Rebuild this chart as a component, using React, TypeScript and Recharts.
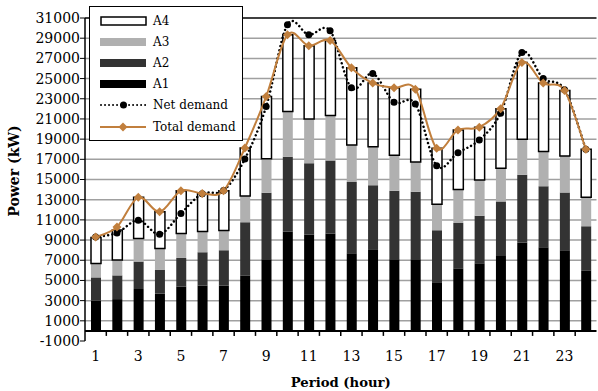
import React from 'react';
import {
  ComposedChart,
  Bar,
  Line,
  XAxis,
  YAxis,
  CartesianGrid,
  ReferenceLine,
  Legend,
  Label,
} from 'recharts';

// values (kW)
const periods = [1, 2, 3, 4, 5, 6, 7, 8, 9, 10, 11, 12, 13, 14, 15, 16, 17, 18, 19, 20, 21, 22, 23, 24];
const a1 = [3000, 3150, 4150, 3700, 4400, 4500, 4500, 5500, 7100, 9850, 9550, 9650, 7700, 8100, 7100, 7100, 4750, 6200, 6700, 7500, 8750, 8300, 8000, 6000];
const a2 = [2300, 2350, 2720, 2370, 2830, 3300, 3490, 5270, 6580, 7410, 7050, 7220, 7050, 6320, 6780, 6680, 5230, 4500, 4700, 5330, 6720, 6030, 5720, 4380];
const a3 = [1370, 1530, 2280, 2090, 2420, 2050, 1960, 2590, 3380, 4470, 4400, 4460, 3670, 3830, 3530, 2950, 2580, 3310, 3540, 3280, 3510, 3450, 3610, 2850];
const a4 = [2580, 2970, 4080, 3640, 4230, 3770, 3930, 4760, 6160, 7610, 7250, 7450, 7650, 6300, 6670, 7220, 5530, 5900, 5240, 5910, 7620, 6770, 6480, 4760];
const netDemand = [9300, 9710, 10970, 9580, 11640, 13600, 13900, 17030, 22220, 30340, 29340, 29740, 24080, 25500, 22660, 22490, 16360, 17660, 18920, 21570, 27590, 25010, 23900, 18000];
const totalDemand = [9300, 10300, 13230, 11800, 13880, 13620, 13880, 18120, 23220, 29340, 28250, 28780, 26070, 24550, 24080, 23950, 18090, 19910, 20180, 22020, 26600, 24550, 23810, 17990];
const yTicks = [-1000, 1000, 3000, 5000, 7000, 9000, 11000, 13000, 15000, 17000, 19000, 21000, 23000, 25000, 27000, 29000, 31000];
const gridValues = [1000, 3000, 5000, 7000, 9000, 11000, 13000, 15000, 17000, 19000, 21000, 23000, 25000, 27000, 29000];

const data = periods.map((p, i) => ({
  period: p,
  a1: a1[i],
  a2: a2[i],
  a3: a3[i],
  a4: a4[i],
  net: netDemand[i],
  total: totalDemand[i],
}));

const W = 598;
const H = 391;
const TOP = 18;
const X_AXIS_H = 50;
const PLOT_H = H - TOP - X_AXIS_H;
const ZERO_Y = TOP + PLOT_H * (31000 / 32000);
const BAND = (W - 85 - 1.5) / periods.length;

const ORANGE = '#C17F3D';
const FONT = '"DejaVu Serif", serif';

// excel-like smoothed line (catmull-rom)
const excelSmooth = (context: any) => {
  let pts: [number, number][] = [];
  return {
    areaStart() {},
    areaEnd() {},
    lineStart() {
      pts = [];
    },
    lineEnd() {
      if (!pts.length) return;
      context.moveTo(pts[0][0], pts[0][1]);
      for (let i = 0; i < pts.length - 1; i++) {
        const p0 = pts[Math.max(i - 1, 0)];
        const p1 = pts[i];
        const p2 = pts[i + 1];
        const p3 = pts[Math.min(i + 2, pts.length - 1)];
        context.bezierCurveTo(
          p1[0] + (p2[0] - p0[0]) / 6,
          p1[1] + (p2[1] - p0[1]) / 6,
          p2[0] - (p3[0] - p1[0]) / 6,
          p2[1] - (p3[1] - p1[1]) / 6,
          p2[0],
          p2[1]
        );
      }
    },
    point(x: number, y: number) {
      pts.push([+x, +y]);
    },
  };
};

const Diamond = (props: any) => {
  const { cx, cy, index } = props;
  if (cx == null || cy == null) return <g key={index} />;
  const s = 4.5;
  return (
    <path
      key={index}
      d={`M${cx},${cy - s}L${cx + s},${cy}L${cx},${cy + s}L${cx - s},${cy}Z`}
      fill={ORANGE}
    />
  );
};

const PeriodTick = (props: any) => {
  const { x, y, payload, index } = props;
  return (
    <g>
      {index < periods.length - 1 && (
        <line x1={x + BAND / 2} x2={x + BAND / 2} y1={ZERO_Y} y2={ZERO_Y + 5} stroke="#000" strokeWidth={1.5} />
      )}
      {payload.value % 2 === 1 && (
        <text x={x} y={y} dy={12} textAnchor="middle" fill="#000" fontSize={14} fontFamily={FONT}>
          {payload.value}
        </text>
      )}
    </g>
  );
};

const PowerLabel = () => (
  <text
    x={14}
    y={171}
    transform="rotate(-90, 14, 171)"
    textAnchor="middle"
    dominantBaseline="central"
    fontFamily={FONT}
    fontSize={14}
    fontWeight="bold"
    fill="#000"
  >
    Power (kW)
  </text>
);

const legendRows = [
  { name: 'A4', kind: 'box', fill: '#fff' },
  { name: 'A3', kind: 'bar', fill: '#b0b0b0' },
  { name: 'A2', kind: 'bar', fill: '#333333' },
  { name: 'A1', kind: 'bar', fill: '#000' },
  { name: 'Net demand', kind: 'net', fill: '#000' },
  { name: 'Total demand', kind: 'total', fill: ORANGE },
];

const LegendBox = () => (
  <div
    style={{
      border: '1.5px solid #000',
      background: '#fff',
      padding: '3px 6px 3px 10px',
      fontFamily: FONT,
      fontSize: 12,
      color: '#000',
      width: 136,
    }}
  >
    {legendRows.map((r) => (
      <div key={r.name} style={{ display: 'flex', alignItems: 'center', height: 21.2 }}>
        <svg width={48} height={12} style={{ marginRight: 5 }}>
          {r.kind === 'box' && <rect x={1} y={2} width={45} height={8} fill="#fff" stroke="#000" strokeWidth={1.5} />}
          {r.kind === 'bar' && <rect x={0} y={2} width={46} height={8} fill={r.fill} />}
          {r.kind === 'net' && (
            <g>
              <line x1={1} x2={46} y1={6} y2={6} stroke="#000" strokeWidth={2} strokeDasharray="0.01 4" strokeLinecap="round" />
              <circle cx={23.5} cy={6} r={3.5} fill="#000" />
            </g>
          )}
          {r.kind === 'total' && (
            <g>
              <line x1={0} x2={46} y1={6} y2={6} stroke={ORANGE} strokeWidth={2} />
              <path d="M23,1.5L27.5,6L23,10.5L18.5,6Z" fill={ORANGE} />
            </g>
          )}
        </svg>
        <span>{r.name}</span>
      </div>
    ))}
  </div>
);

export default function App() {
  return (
    <div style={{ position: 'absolute', left: 0, top: 0, background: '#fff' }}>
      <ComposedChart
        width={W}
        height={H}
        data={data}
        margin={{ top: TOP, right: 1.5, bottom: 0, left: 0 }}
        barSize={10}
      >
        <CartesianGrid
          vertical={false}
          horizontalValues={gridValues}
          stroke="#a0a0a0"
          strokeWidth={1.5}
        />
        <XAxis
          dataKey="period"
          height={X_AXIS_H}
          axisLine={false}
          tickLine={false}
          interval={0}
          tick={<PeriodTick />}
          label={{
            value: 'Period (hour)',
            position: 'insideBottom',
            offset: 4,
            style: { fontFamily: FONT, fontSize: 13.2, fontWeight: 'bold', fill: '#000' },
          }}
        />
        <YAxis
          width={85}
          domain={[-1000, 31000]}
          ticks={yTicks}
          interval={0}
          allowDataOverflow
          axisLine={{ stroke: '#000', strokeWidth: 1.5 }}
          tickLine={{ stroke: '#000', strokeWidth: 1 }}
          tickSize={5}
          tickMargin={0}
          tick={{ fill: '#000', fontSize: 14, fontFamily: FONT }}
        >
          <Label content={<PowerLabel />} />
        </YAxis>
        <ReferenceLine y={31000} stroke="#000" strokeWidth={1.5} />
        <Bar dataKey="a1" name="A1" stackId="s" fill="#000" isAnimationActive={false} />
        <Bar dataKey="a2" name="A2" stackId="s" fill="#333333" isAnimationActive={false} />
        <Bar dataKey="a3" name="A3" stackId="s" fill="#b0b0b0" isAnimationActive={false} />
        <Bar dataKey="a4" name="A4" stackId="s" fill="#fff" stroke="#000" strokeWidth={1.5} isAnimationActive={false} />
        <ReferenceLine y={0} stroke="#000" strokeWidth={2} />
        <Line
          dataKey="net"
          name="Net demand"
          type={excelSmooth as any}
          stroke="#000"
          strokeWidth={2.5}
          strokeDasharray="0.01 4.2"
          strokeLinecap="round"
          dot={{ r: 3.5, fill: '#000', stroke: 'none', strokeDasharray: 'none' }}
          activeDot={false}
          isAnimationActive={false}
        />
        <Line
          dataKey="total"
          name="Total demand"
          type={excelSmooth as any}
          stroke={ORANGE}
          strokeWidth={2}
          dot={<Diamond />}
          activeDot={false}
          isAnimationActive={false}
        />
        <Legend
          layout="vertical"
          align="center"
          verticalAlign="middle"
          wrapperStyle={{ left: 89, top: 6, width: 'auto' }}
          content={<LegendBox />}
        />
      </ComposedChart>
    </div>
  );
}
